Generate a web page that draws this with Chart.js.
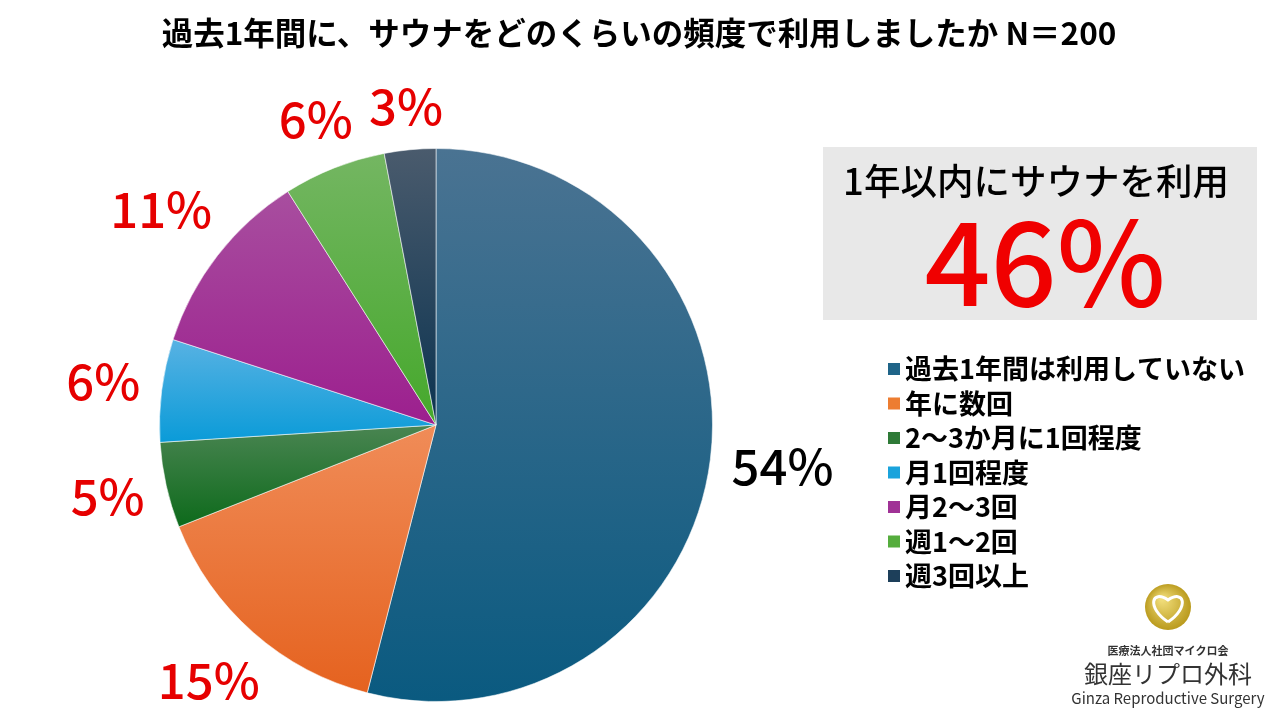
<!DOCTYPE html>
<html>
<head>
<meta charset="utf-8">
<script src="https://cdn.jsdelivr.net/npm/chart.js@4.4.1/dist/chart.umd.min.js"></script>
<style>
  html, body { margin: 0; padding: 0; background: #fff; overflow: hidden; }
  #chart { display: block; }
</style>
</head>
<body>
<canvas id="chart" width="1280" height="720" style="width:1280px;height:720px"></canvas>
<script>
const titleText = '過去1年間に、サウナをどのくらいの頻度で利用しましたか N＝200';
const categories = ['過去1年間は利用していない', '年に数回', '2～3か月に1回程度', '月1回程度', '月2～3回', '週1～2回', '週3回以上'];
const shares = [54, 15, 5, 6, 11, 6, 3];
const highlightLabel = '1年以内にサウナを利用';
const highlightValue = '46%';

const topColors = ['#4a7392', '#f08c58', '#4a8552', '#58b2e3', '#a84e9f', '#74b662', '#4a5b6d'];
const bottomColors = ['#0a5a80', '#e5621f', '#0d6a1b', '#0a9bd8', '#9c1f8e', '#45a82b', '#0b3350'];
const legendColors = ['#1f6488', '#ed7d31', '#2e7a37', '#1aa3dc', '#a03296', '#55ad3d', '#1d3f5a'];
const pctColors = ['#000000', '#e60000', '#e60000', '#e60000', '#e60000', '#e60000', '#e60000'];

const FONT = '"Noto Sans CJK JP", "Noto Sans", sans-serif';

// per-slice vertical gradient, like the office chart style
const sliceGradient = {
  id: 'sliceGradient',
  beforeDatasetsDraw(chart) {
    const ctx = chart.ctx;
    const meta = chart.getDatasetMeta(0);
    meta.data.forEach((arc, i) => {
      const { x, y, startAngle, endAngle, outerRadius } = arc.getProps(['x', 'y', 'startAngle', 'endAngle', 'outerRadius']);
      const ys = [y, y + outerRadius * Math.sin(startAngle), y + outerRadius * Math.sin(endAngle)];
      [Math.PI / 2, -Math.PI / 2, Math.PI * 1.5].forEach(a => {
        if (a >= startAngle && a <= endAngle) ys.push(y + outerRadius * Math.sin(a));
      });
      const g = ctx.createLinearGradient(0, Math.min(...ys), 0, Math.max(...ys));
      g.addColorStop(0, topColors[i]);
      g.addColorStop(1, bottomColors[i]);
      arc.options.backgroundColor = g;
    });
  }
};

const decorations = {
  id: 'decorations',
  afterDraw(chart) {
    const ctx = chart.ctx;
    ctx.save();

    // title
    ctx.fillStyle = '#000';
    ctx.font = 'bold 31.5px ' + FONT;
    ctx.textAlign = 'center';
    ctx.textBaseline = 'middle';
    ctx.fillText(titleText, 639, 33);

    // percent labels outside the slices
    const meta = chart.getDatasetMeta(0);
    ctx.font = '500 49px ' + FONT;
    meta.data.forEach((arc, i) => {
      const { x, y, startAngle, endAngle, outerRadius } = arc.getProps(['x', 'y', 'startAngle', 'endAngle', 'outerRadius']);
      const mid = (startAngle + endAngle) / 2;
      const txt = shares[i] + '%';
      const w = ctx.measureText(txt).width;
      const d = outerRadius + 20 + Math.abs(Math.cos(mid)) * w / 2 + Math.abs(Math.sin(mid)) * 18;
      ctx.fillStyle = pctColors[i];
      ctx.fillText(txt, x + d * Math.cos(mid), y + d * Math.sin(mid) - 2);
    });

    // grey highlight box
    ctx.fillStyle = '#e8e8e8';
    ctx.fillRect(823, 147, 434, 173);
    ctx.fillStyle = '#000';
    ctx.font = '500 36.5px ' + FONT;
    ctx.fillText(highlightLabel, 1036, 181);
    ctx.fillStyle = '#f00000';
    ctx.font = '500 116px ' + FONT;
    ctx.fillText(highlightValue, 1045, 262);

    // legend
    ctx.textAlign = 'left';
    ctx.font = 'bold 27px ' + FONT;
    categories.forEach((c, i) => {
      const ry = 369 + i * 34.5;
      ctx.fillStyle = legendColors[i];
      ctx.fillRect(888, ry - 6, 12, 12);
      ctx.fillStyle = '#000';
      ctx.fillText(c, 905, ry);
    });

    // logo
    const lx = 1168, ly = 607;
    const rg = ctx.createRadialGradient(lx - 6, ly - 8, 2, lx, ly, 24);
    rg.addColorStop(0, '#f0dc78');
    rg.addColorStop(1, '#b8981a');
    ctx.fillStyle = rg;
    ctx.beginPath();
    ctx.arc(lx, ly, 23, 0, Math.PI * 2);
    ctx.fill();
    ctx.strokeStyle = '#fff';
    ctx.lineWidth = 3;
    ctx.beginPath();
    ctx.moveTo(lx, ly + 15);
    ctx.bezierCurveTo(lx - 22, ly, lx - 16, ly - 18, lx, ly - 7);
    ctx.bezierCurveTo(lx + 16, ly - 18, lx + 22, ly, lx, ly + 15);
    ctx.stroke();

    ctx.textAlign = 'center';
    ctx.fillStyle = '#333';
    ctx.font = 'bold 11px ' + FONT;
    ctx.fillText('医療法人社団マイクロ会', lx, 651);
    ctx.font = '24px ' + FONT;
    ctx.fillText('銀座リプロ外科', lx, 674);
    ctx.font = '15px ' + FONT;
    ctx.fillText('Ginza Reproductive Surgery', lx, 698);

    ctx.restore();
  }
};

new Chart(document.getElementById('chart'), {
  type: 'pie',
  data: {
    labels: categories,
    datasets: [{
      data: shares,
      backgroundColor: legendColors,
      borderColor: 'rgba(255,255,255,0.55)',
      borderWidth: 1
    }]
  },
  options: {
    responsive: false,
    animation: false,
    layout: { padding: { left: 159, right: 567, top: 148, bottom: 18 } },
    plugins: {
      legend: { display: false },
      tooltip: { enabled: false }
    }
  },
  plugins: [sliceGradient, decorations]
});
</script>
</body>
</html>
